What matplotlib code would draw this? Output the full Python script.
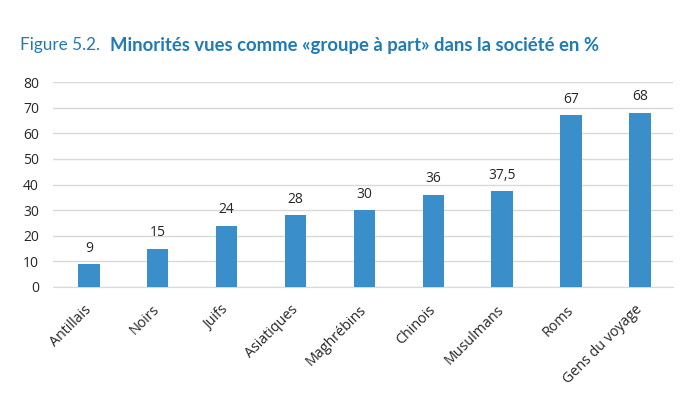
import matplotlib
matplotlib.use("Agg")
import matplotlib.pyplot as plt

categories = ["Antillais", "Noirs", "Juifs", "Asiatiques", "Maghrébins",
              "Chinois", "Musulmans", "Roms", "Gens du voyage"]
values = [9, 15, 24, 28, 30, 36, 37.5, 67, 68]
value_labels = ["9", "15", "24", "28", "30", "36", "37,5", "67", "68"]
yticks = [0, 10, 20, 30, 40, 50, 60, 70, 80]

BAR = "#3a8fcb"
TITLE = "#1f7bb6"
TXT = "#262626"

fig = plt.figure(figsize=(6.98, 4.0), dpi=100)
W, H = 698, 400
ax = fig.add_axes([53 / W, 1 - 287 / H, (673 - 53) / W, (287 - 82) / H])

x = list(range(len(categories)))
ax.bar(x, values, width=0.31, color=BAR, zorder=3)
for xi, v, lab in zip(x, values, value_labels):
    ax.annotate(lab, (xi, v), xytext=(0, 6), textcoords="offset points",
                ha="center", va="bottom", fontsize=10, color=TXT,
                family="Open Sans")

ax.set_xlim(-0.52, 8.48)
ax.set_ylim(0, 80)
ax.set_yticks(yticks)
ax.set_yticklabels([str(t) for t in yticks], fontsize=10, color=TXT,
                   family="Open Sans")
ax.yaxis.grid(True, color="#d9d9d9", linewidth=1, zorder=0)
ax.set_axisbelow(True)
for s in ["top", "right", "left"]:
    ax.spines[s].set_visible(False)
ax.spines["bottom"].set_color("#d9d9d9")
ax.tick_params(axis="y", length=0, pad=10)
ax.tick_params(axis="x", length=0, pad=15)
ax.set_xticks(x)
ax.set_xticklabels(categories, rotation=45, ha="right", va="center",
                   rotation_mode="anchor",
                   fontsize=10.3, color=TXT, family="Open Sans")

fig.text(20 / W, 1 - 45 / H, "Figure 5.2.", fontsize=12.3, color=TITLE,
         family="Lato", va="center", ha="left")
fig.text(110 / W, 1 - 45 / H,
         "Minorités vues comme «groupe à part» dans la société en %",
         fontsize=13.3, color=TITLE, family="Lato", fontweight="bold",
         va="center", ha="left")

fig.savefig("out.png", dpi=100)
